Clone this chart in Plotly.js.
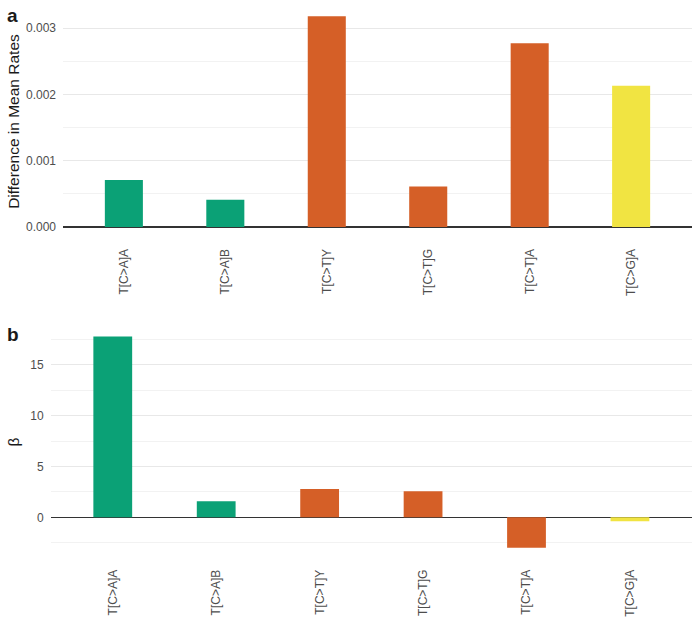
<!DOCTYPE html>
<html>
<head>
<meta charset="utf-8">
<script src="https://cdn.plot.ly/plotly-3.0.1.min.js"></script>
<style>html,body{margin:0;padding:0;background:#fff;}#chart{width:700px;height:621px;}</style>
</head>
<body>
<div id="chart"></div>
<script>
// ---- data ----
const categories = ["T[C>A]A", "T[C>A]B", "T[C>T]Y", "T[C>T]G", "T[C>T]A", "T[C>G]A"];
const mutationClass = ["C>A", "C>A", "C>T", "C>T", "C>T", "C>G"];
const diffMeanRates = [0.00071, 0.00041, 0.00318, 0.00061, 0.00277, 0.00213];
const beta = [17.78, 1.57, 2.79, 2.56, -2.99, -0.39];
const classColors = {"C>A": "#0ba176", "C>T": "#d55f27", "C>G": "#f1e442"};

const barColors = mutationClass.map(c => classColors[c]);
const FONT = "Liberation Sans, Arial, Helvetica, sans-serif";
const W = 700, H = 621;

function expRange(vals) {
  const lo = Math.min(0, ...vals), hi = Math.max(0, ...vals);
  const span = hi - lo;
  return [lo - 0.05 * span, hi + 0.05 * span];
}

const traces = [
  {type: "bar", x: categories, y: diffMeanRates, xaxis: "x", yaxis: "y",
   marker: {color: barColors}, hoverinfo: "x+y", showlegend: false},
  {type: "bar", x: categories, y: beta, xaxis: "x2", yaxis: "y2",
   marker: {color: barColors}, hoverinfo: "x+y", showlegend: false}
];

const tickFont = {family: FONT, size: 12, color: "#4d4d4d"};
const xCommon = {
  type: "category", range: [-0.6, categories.length - 0.4],
  showgrid: false, zeroline: false, showline: false, ticks: "",
  tickangle: -90, tickfont: tickFont, ticklabelstandoff: 8, fixedrange: true
};
const yCommon = {
  showgrid: true, gridcolor: "#e8e8e8", gridwidth: 1,
  zeroline: true, zerolinecolor: "#333333", zerolinewidth: 1.6,
  showline: false, ticks: "", tickfont: tickFont, ticklabelstandoff: 6, fixedrange: true
};

const layout = {
  width: W, height: H,
  margin: {l: 0, r: 0, t: 0, b: 0},
  paper_bgcolor: "#ffffff", plot_bgcolor: "#ffffff",
  bargap: 0.625,
  font: {family: FONT},
  xaxis: Object.assign({}, xCommon, {domain: [63 / W, 692 / W], anchor: "y"}),
  yaxis: Object.assign({}, yCommon, {
    domain: [1 - 237.5 / H, 1 - 5.6 / H], anchor: "x",
    range: expRange(diffMeanRates), dtick: 0.001, tick0: 0, tickformat: ".3f",
    minor: {dtick: 0.0005, showgrid: true, gridcolor: "#f2f2f2", gridwidth: 1, ticks: ""},
    title: {text: "Difference in Mean Rates", font: {family: FONT, size: 15.5, color: "#1a1a1a"}, standoff: 2}
  }),
  xaxis2: Object.assign({}, xCommon, {domain: [50.7 / W, 692 / W], anchor: "y2"}),
  yaxis2: Object.assign({}, yCommon, {
    domain: [1 - 558.3 / H, 1 - 325.9 / H], anchor: "x2",
    range: expRange(beta), dtick: 5, tick0: 0,
    minor: {dtick: 2.5, showgrid: true, gridcolor: "#f2f2f2", gridwidth: 1, ticks: ""},
    title: {text: "β", font: {family: FONT, size: 15.5, color: "#1a1a1a"}, standoff: 6}
  }),
  annotations: [
    {text: "<b>a</b>", xref: "paper", yref: "paper", x: 5 / W, y: 1 - 3 / H,
     xanchor: "left", yanchor: "top", showarrow: false, font: {family: FONT, size: 19, color: "#1a1a1a"}},
    {text: "<b>b</b>", xref: "paper", yref: "paper", x: 5 / W, y: 1 - 322 / H,
     xanchor: "left", yanchor: "top", showarrow: false, font: {family: FONT, size: 19, color: "#1a1a1a"}}
  ]
};

Plotly.newPlot("chart", traces, layout, {displayModeBar: false, staticPlot: true});
</script>
</body>
</html>
